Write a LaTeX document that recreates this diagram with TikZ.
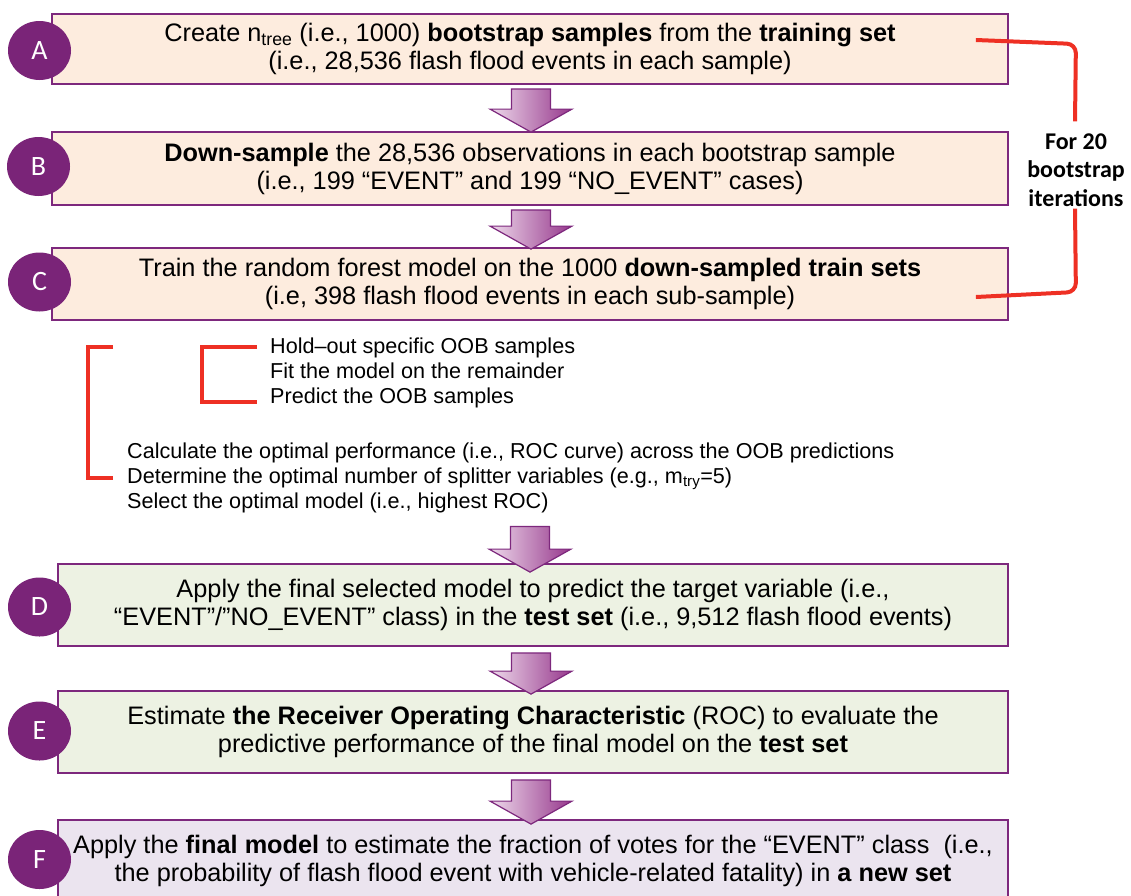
\documentclass[tikz,border=0pt]{standalone}
\usepackage{fontspec}
\setmainfont{Liberation Sans}
\newfontfamily\tagfont{Carlito}
\usetikzlibrary{calc,shapes.geometric}
\definecolor{boxLine}{RGB}{125,40,125}
\definecolor{trFill}{RGB}{253,236,222}
\definecolor{teFill}{RGB}{237,242,227}
\definecolor{nwFill}{RGB}{235,228,239}
\definecolor{tagFill}{RGB}{122,36,120}
\definecolor{brRed}{RGB}{238,48,36}
\definecolor{arLo}{RGB}{238,218,235}
\definecolor{arHi}{RGB}{150,55,140}
% block arrow from a top point #1 down to its tip #2
\newcommand{\flowarrow}[2]{%
  \path[blk] let \p1=(#1), \p2=(#2) in
    (\x1-19.5pt,\y1) -- (\x1+19.5pt,\y1) -- (\x1+19.5pt,\y2+23pt) -- (\x1+41pt,\y2+23pt)
    -- (\x1,\y2) -- (\x1-41pt,\y2+23pt) -- (\x1-19.5pt,\y2+23pt) -- cycle;}

\begin{document}
\begin{tikzpicture}[x=1pt,y=-1pt,
  stepbox/.style={draw=boxLine,line width=1.8pt,align=center,inner sep=0pt,font=\fontsize{25.3}{28}\selectfont},
  trbox/.style={stepbox,fill=trFill,minimum width=956pt},
  tebox/.style={stepbox,fill=teFill,minimum width=950pt,minimum height=82pt},
  nwbox/.style={stepbox,fill=nwFill,minimum width=950pt,minimum height=82pt},
  tag/.style={ellipse,fill=tagFill,text=white,minimum width=63pt,minimum height=59pt,inner sep=0pt,font=\tagfont\fontsize{28}{28}\selectfont},
  blk/.style={draw=boxLine,line width=1.2pt,left color=arLo,right color=arHi},
  bracket/.style={draw=brRed,line width=4.5pt},
  steps/.style={align=left,inner sep=0pt,font=\fontsize{21.6}{25}\selectfont}]
\useasboundingbox (0,0) rectangle (1131,895);

% training steps
\node[trbox,minimum height=70pt] (A) at (530,49) {Create n\textsubscript{tree} (i.e., 1000) \textbf{bootstrap samples} from the \textbf{training set}\\(i.e., 28,536 flash flood events in each sample)};
\node[trbox,minimum height=73pt] (B) at (530,168.5) {\textbf{Down-sample} the 28,536 observations in each bootstrap sample\\(i.e., 199 “EVENT” and 199 “NO\_EVENT” cases)};
\node[trbox,minimum height=72pt] (C) at (530,284) {Train the random forest model on the 1000 \textbf{down-sampled train sets}\\(i.e, 398 flash flood events in each sub-sample)};

% out-of-bag loop
\node[steps,anchor=north west] (cv) at (270,338) {Hold–out specific OOB samples\\Fit the model on the remainder\\Predict the OOB samples};
\node[steps,anchor=north west] (oob) at (127,443) {Calculate the optimal performance (i.e., ROC curve) across the OOB predictions\\Determine the optimal number of splitter variables (e.g., m\textsubscript{try}=5)\\Select the optimal model (i.e., highest ROC)};
\draw[bracket] ($(cv.north west)+(-13,9)$) -| ($(cv.south west)+(-68,-6.5)$) -- ++(55,0);
\draw[bracket] ($(cv.north west)+(-157,9)$) -| ($(oob.north west)+(-39,35)$) -- ++(25,0);

% test and new data
\node[tebox] (D) at (533,605) {Apply the final selected model to predict the target variable (i.e.,\\“EVENT”/”NO\_EVENT” class) in the \textbf{test set} (i.e., 9,512 flash flood events)};
\node[tebox] (E) at (533,732) {Estimate \textbf{the Receiver Operating Characteristic} (ROC) to evaluate the\\predictive performance of the final model on the \textbf{test set}};
\node[nwbox] (F) at (533,861) {Apply the \textbf{final model} to estimate the fraction of votes for the “EVENT” class~ (i.e.,\\the probability of flash flood event with vehicle-related fatality) in \textbf{a new set}};

% letters
\node[tag] (tA) at (39.5,50.5) {A};
\node[tag] (tB) at (38.5,166.5) {B};
\node[tag] (tC) at (39.5,282) {C};
\node[tag] (tD) at (39.5,607) {D};
\node[tag] (tE) at (39.5,731) {E};
\node[tag] (tF) at (39.5,859.5) {F};

% block arrows
\flowarrow{$(A.south)+(1,4)$}{$(B.north)+(1,1)$}
\flowarrow{$(B.south)+(1,4)$}{$(C.north)+(1,2)$}
\flowarrow{$(C.south |- oob.south)+(0,13)$}{$(D.north)+(-3,9)$}
\flowarrow{$(D.south)+(-2,6)$}{$(E.north)+(-2,4)$}
\flowarrow{$(E.south)+(-2,6)$}{$(F.north)+(-2,5)$}

% bootstrap loop
\node[font=\tagfont\bfseries\fontsize{24}{28.5}\selectfont,align=center,inner sep=0pt] (iter) at (1076,170) {For 20\\bootstrap\\iterations};
\draw[bracket,line width=4pt,rounded corners=9pt] ($(A.east)+(-33,-9)$) -- ($(A.east)+(67,-5)$) -- ($(iter.north)+(-1,-12)$);
\draw[bracket,line width=4pt,rounded corners=9pt] ($(iter.south)+(-1,2)$) -- ($(C.east)+(67,8)$) -- ($(C.east)+(-33,13)$);
\end{tikzpicture}
\end{document}
